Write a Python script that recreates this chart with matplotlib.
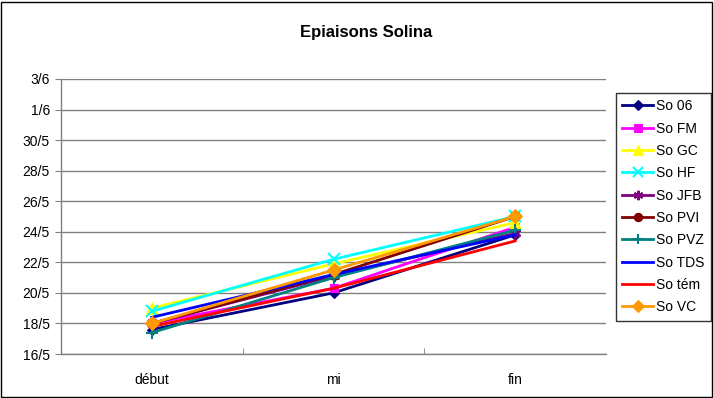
import matplotlib
matplotlib.use("Agg")
import matplotlib.pyplot as plt
from matplotlib.patches import Rectangle

plt.rcParams['font.family'] = ['Liberation Sans', 'DejaVu Sans']

# Stages of heading and dates (day numbers counted in May; June days = 31 + d)
stages = ["début", "mi", "fin"]
tick_days = [16, 18, 20, 22, 24, 26, 28, 30, 32, 34]
tick_labels = ["16/5", "18/5", "20/5", "22/5", "24/5", "26/5", "28/5", "30/5", "1/6", "3/6"]

series_names = ["So 06", "So FM", "So GC", "So HF", "So JFB",
                "So PVI", "So PVZ", "So TDS", "So tém", "So VC"]
so_06 = [17.6, 20.0, 23.8]
so_fm = [18.0, 20.3, 24.3]
so_gc = [19.0, 21.9, 24.6]
so_hf = [18.8, 22.2, 25.0]
so_jfb = [18.0, 21.1, 23.9]
so_pvi = [18.0, 21.2, 25.0]
so_pvz = [17.4, 21.0, 24.1]
so_tds = [18.4, 21.2, 23.8]
so_tem = [17.8, 20.3, 23.4]
so_vc = [18.0, 21.5, 25.0]
series_values = [so_06, so_fm, so_gc, so_hf, so_jfb, so_pvi, so_pvz, so_tds, so_tem, so_vc]

colors = ["#000080", "#FF00FF", "#FFFF00", "#00FFFF", "#800080",
          "#800000", "#008080", "#0000FF", "#FF0000", "#FF9900"]
markers = ["D", "s", "^", "x", (6, 2, 0), "o", "+", None, None, "D"]
msizes = [5.5, 6, 8, 8, 8, 7, 9, 0, 0, 7]

fig = plt.figure(figsize=(7.14, 3.98), dpi=100)
fig.patch.set_facecolor("white")
fig.add_artist(Rectangle((0.002, 0.003), 0.995, 0.993, transform=fig.transFigure,
                         fill=False, edgecolor="black", linewidth=1.0))

W, H = 714, 398
left, right, top, bottom = 61, 606, 79, 354
ax = fig.add_axes([left / W, 1 - bottom / H, (right - left) / W, (bottom - top) / H])

x = list(range(len(stages)))
for name, vals, c, m, ms in zip(series_names, series_values, colors, markers, msizes):
    mew = 1.5 if m in ("x", "+", (6, 2, 0)) else 0.8
    ax.plot(x, vals, color=c, linewidth=2.0, marker=m, markersize=ms,
            markeredgecolor=c, markerfacecolor=c, markeredgewidth=mew, label=name)

ax.set_xlim(-0.5, 2.5)
ax.set_ylim(16, 34)
ax.set_yticks(tick_days)
ax.set_yticklabels(tick_labels, fontsize=10)
ax.set_xticks(x)
ax.set_xticklabels(stages, fontsize=10)
ax.set_xticks([0.5, 1.5], minor=True)
ax.tick_params(axis="x", which="major", length=0, pad=14)
ax.tick_params(axis="x", which="minor", length=4, direction="in", color="#808080")
ax.tick_params(axis="y", length=4, direction="out", color="#808080", pad=4)
ax.grid(axis="y", color="#808080", linewidth=1.0)
ax.set_axisbelow(True)
for side in ("top", "right"):
    ax.spines[side].set_visible(False)
for side in ("left", "bottom"):
    ax.spines[side].set_color("#808080")
    ax.spines[side].set_linewidth(1.0)

fig.text(366 / W, 1 - 32 / H, "Epiaisons Solina", ha="center", va="center",
         fontsize=12, fontweight="bold")

leg = fig.legend(loc="upper left", bbox_to_anchor=(616 / W, 1 - 93 / H),
                 frameon=True, fancybox=False, fontsize=10, handlelength=2.2,
                 labelspacing=0.6, borderpad=0.45, handletextpad=0.25,
                 borderaxespad=0, markerscale=0.85)
leg.get_frame().set_edgecolor("black")
leg.get_frame().set_linewidth(1.0)

fig.savefig("out.png", dpi=100)
